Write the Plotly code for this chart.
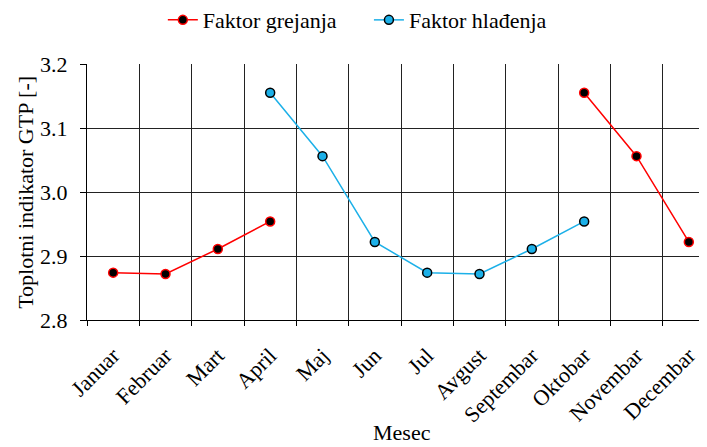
import plotly.graph_objects as go

months = ["Januar", "Februar", "Mart", "April", "Maj", "Jun", "Jul",
          "Avgust", "Septembar", "Oktobar", "Novembar", "Decembar"]
heating = [2.874, 2.872, 2.911, 2.954, None, None, None, None, None, 3.155, 3.056, 2.922]
cooling = [None, None, None, 3.155, 3.056, 2.922, 2.874, 2.872, 2.911, 2.954, None, None]
y_ticks = [2.8, 2.9, 3.0, 3.1, 3.2]
y_ticktext = ["2.8", "2.9", "3.0", "3.1", "3.2"]

FONT = "Liberation Serif"
FS = 22

fig = go.Figure()
fig.add_trace(go.Scatter(
    x=months, y=heating, name="Faktor grejanja", mode="lines+markers",
    line=dict(color="#FF0000", width=1.5),
    marker=dict(symbol="circle", size=9, color="#000000",
                line=dict(color="#FF0000", width=1.5)),
    connectgaps=False, legend="legend",
))
fig.add_trace(go.Scatter(
    x=months, y=cooling, name="Faktor hlađenja", mode="lines+markers",
    line=dict(color="#1CB0E8", width=1.5),
    marker=dict(symbol="circle", size=9, color="#1CB0E8",
                line=dict(color="#000000", width=1.5)),
    connectgaps=False, legend="legend2",
))

leg_common = dict(orientation="h", xref="container", yref="container",
                  xanchor="left", y=0.973, yanchor="middle",
                  font=dict(family=FONT, size=FS, color="black"),
                  bgcolor="rgba(0,0,0,0)", borderwidth=0)

fig.update_layout(
    width=707, height=447,
    margin=dict(l=79, r=0, t=56, b=135, autoexpand=False),
    paper_bgcolor="white", plot_bgcolor="white",
    font=dict(family=FONT, size=FS, color="black"),
    showlegend=True,
    legend=dict(x=0.219, **leg_common),
    legend2=dict(x=0.5105, **leg_common),
    annotations=[
        dict(text="Mesec", xref="paper", yref="paper", x=0.501, y=-0.441,
             xanchor="center", yanchor="middle", showarrow=False,
             font=dict(family=FONT, size=FS, color="black")),
        dict(text="Toplotni indikator GTP [-]", xref="paper", yref="paper",
             x=-0.099, y=0.5, xanchor="center", yanchor="middle", textangle=-90,
             showarrow=False, font=dict(family=FONT, size=FS, color="black")),
    ],
)
fig.update_xaxes(
    type="category", categoryorder="array", categoryarray=months,
    range=[-0.5, 11.5], automargin=False,
    tickson="boundaries", ticks="outside", ticklen=5, tickcolor="black",
    ticklabelstandoff=13,
    tickangle=-45, tickfont=dict(family=FONT, size=FS, color="black"),
    showgrid=True, gridcolor="#222222", gridwidth=1,
    showline=True, linecolor="black", linewidth=1,
)
fig.update_yaxes(
    range=[2.8, 3.2], tickvals=y_ticks, ticktext=y_ticktext, automargin=False,
    ticks="outside", ticklen=6, tickcolor="black", ticklabelstandoff=8,
    tickfont=dict(family=FONT, size=FS, color="black"),
    showgrid=True, gridcolor="#222222", gridwidth=1,
    showline=True, linecolor="black", linewidth=1,
    zeroline=False,
)

fig.write_html("out.html")
